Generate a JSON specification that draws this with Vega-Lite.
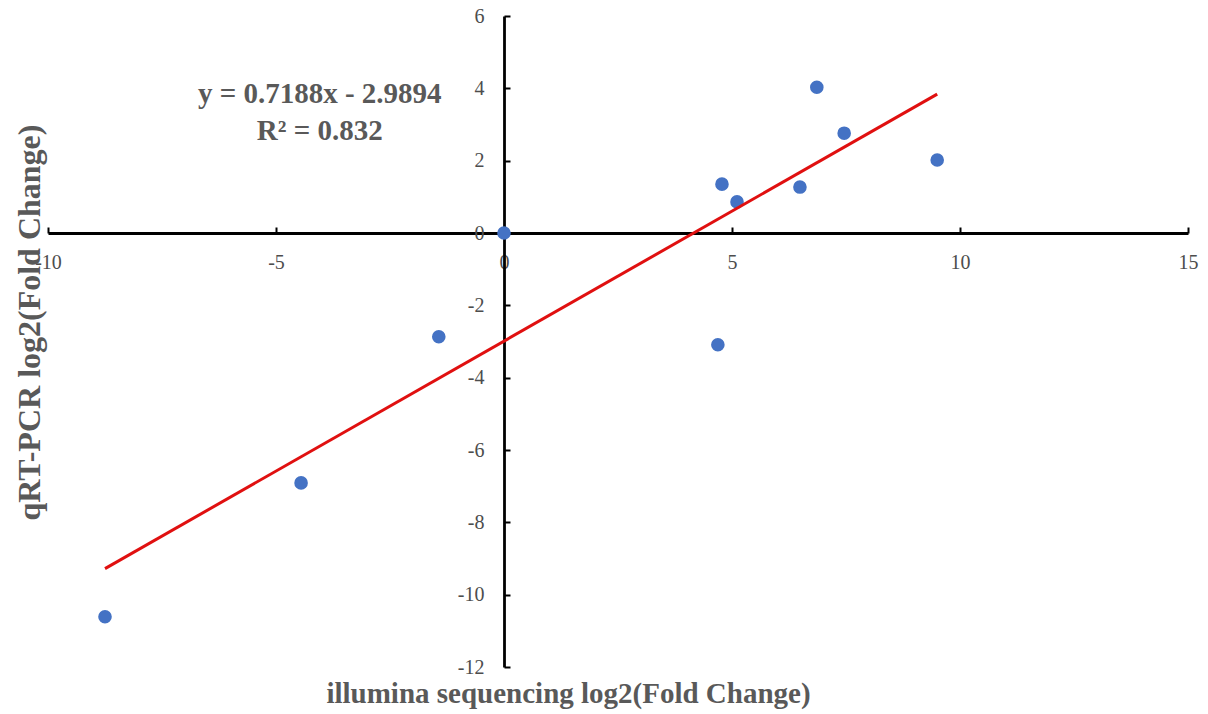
{
  "$schema": "https://vega.github.io/schema/vega-lite/v6.json",
  "width": 1140,
  "height": 651,
  "autosize": {"type": "none"},
  "padding": {"left": 48, "top": 16, "right": 20, "bottom": 47},
  "background": "white",
  "config": {"view": {"stroke": null}, "font": "Liberation Serif"},
  "datasets": {
    "points": [
      {"illumina": -8.75, "qpcr": -10.61},
      {"illumina": -4.45, "qpcr": -6.91},
      {"illumina": -1.43, "qpcr": -2.87},
      {"illumina": 0.0, "qpcr": 0.0},
      {"illumina": 4.69, "qpcr": -3.09},
      {"illumina": 4.78, "qpcr": 1.35},
      {"illumina": 5.11, "qpcr": 0.86},
      {"illumina": 6.49, "qpcr": 1.27},
      {"illumina": 6.86, "qpcr": 4.03},
      {"illumina": 7.46, "qpcr": 2.76},
      {"illumina": 9.5, "qpcr": 2.02}
    ],
    "trend": [
      {"illumina": -8.75, "qpcr": -9.279},
      {"illumina": 9.5, "qpcr": 3.839}
    ],
    "eq": [
      {"label": "y = 0.7188x - 2.9894\nR² = 0.832"}
    ]
  },
  "layer": [
    {
      "data": {"name": "points"},
      "mark": {"type": "circle", "size": 185, "color": "#4472C4", "opacity": 1},
      "encoding": {
        "x": {
          "field": "illumina", "type": "quantitative",
          "scale": {"domain": [-10, 15], "nice": false, "zero": false},
          "axis": {
            "title": "illumina sequencing log2(Fold Change)",
            "orient": "bottom", "offset": -434,
            "values": [-10, -5, 0, 5, 10, 15],
            "labelExpr": "'' + datum.value",
            "grid": false,
            "domainColor": "black", "domainWidth": 2.8,
            "tickColor": "black", "tickWidth": 2, "tickSize": -6,
            "labelPadding": 25, "labelFont": "Liberation Serif", "labelFontSize": 20,
            "labelColor": "#4d4d4d", "labelFlush": false, "labelOverlap": false,
            "titleFont": "Liberation Serif", "titleFontSize": 29, "titleFontWeight": "bold",
            "titleColor": "#595959", "titleX": 520, "titleY": 469,
            "titleBaseline": "alphabetic", "titleAlign": "center"
          }
        },
        "y": {
          "field": "qpcr", "type": "quantitative",
          "scale": {"domain": [-12, 6], "nice": false, "zero": false},
          "axis": {
            "title": "qRT-PCR log2(Fold Change)",
            "orient": "left", "offset": -456,
            "values": [-12, -10, -8, -6, -4, -2, 0, 2, 4, 6],
            "labelExpr": "'' + datum.value",
            "grid": false,
            "domainColor": "black", "domainWidth": 2.8,
            "tickColor": "black", "tickWidth": 2, "tickSize": -6,
            "labelPadding": 26, "labelFont": "Liberation Serif", "labelFontSize": 20,
            "labelColor": "#4d4d4d", "labelFlush": false, "labelOverlap": false,
            "titleFont": "Liberation Serif", "titleFontSize": 32, "titleFontWeight": "bold",
            "titleColor": "#595959", "titleX": -465, "titleY": 306,
            "titleBaseline": "alphabetic", "titleAlign": "center", "titleAngle": -90
          }
        }
      }
    },
    {
      "data": {"name": "trend"},
      "mark": {"type": "line", "color": "#E01010", "strokeWidth": 3},
      "encoding": {
        "x": {"field": "illumina", "type": "quantitative"},
        "y": {"field": "qpcr", "type": "quantitative"}
      }
    },
    {
      "data": {"name": "eq"},
      "mark": {
        "type": "text", "font": "Liberation Serif", "fontSize": 29, "fontWeight": "bold",
        "color": "#595959", "align": "center", "baseline": "middle",
        "lineBreak": "\n", "lineHeight": 37
      },
      "encoding": {
        "x": {"datum": -4.04, "type": "quantitative"},
        "y": {"datum": 3.83, "type": "quantitative"},
        "text": {"field": "label", "type": "nominal"}
      }
    }
  ]
}
